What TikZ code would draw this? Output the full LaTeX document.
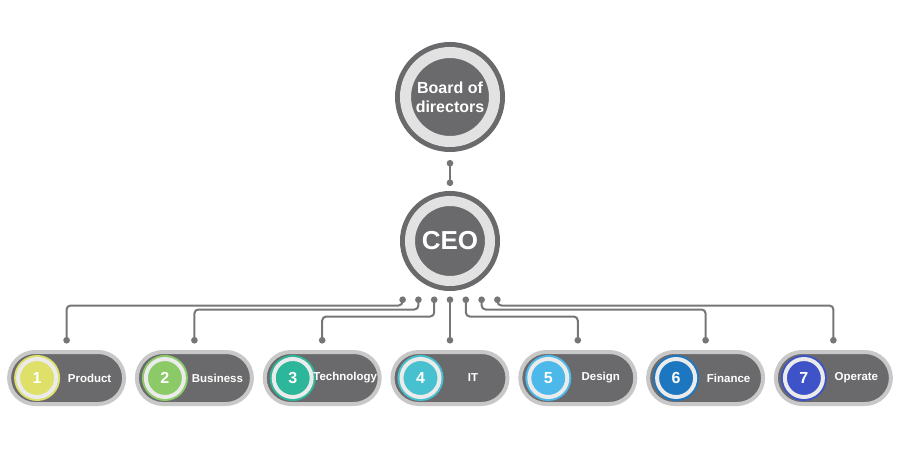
\documentclass[tikz,border=0pt]{standalone}
\usepackage{fontspec}
\setmainfont{Liberation Sans}
\usetikzlibrary{arrows.meta}
\definecolor{boxgrey}{RGB}{106,106,108}
\definecolor{ringgrey}{RGB}{226,226,226}
\definecolor{rimgrey}{RGB}{200,200,200}
\definecolor{linkgrey}{RGB}{118,118,120}
\definecolor{prodc}{RGB}{222,224,106}
\definecolor{busc}{RGB}{140,202,104}
\definecolor{techc}{RGB}{44,182,154}
\definecolor{itc}{RGB}{71,192,207}
\definecolor{desc}{RGB}{76,185,234}
\definecolor{finc}{RGB}{28,118,192}
\definecolor{opc}{RGB}{61,83,199}

\begin{document}
\begin{tikzpicture}[x = 1pt, y = -1pt,
    every node/.style = {text = white, font = \bfseries},
    ring/.style = {shape = circle, inner sep = 0pt, fill = boxgrey, draw = boxgrey, double = ringgrey, line width = 5pt},
    pill/.style = {shape = rectangle, rounded corners = 26pt, minimum width = 115pt, minimum height = 52pt,
        fill = boxgrey, draw = rimgrey, line width = 4pt},
    badge/.style = {shape = circle, minimum size = 38pt, inner sep = 0pt, line width = 2pt,
        double = white!92!black, double distance = 4pt, font = \bfseries\fontsize{16}{16}\selectfont},
    link/.style = {draw = linkgrey, line width = 2pt, {Circle[length = 6.5pt, width = 6.5pt]}-{Circle[length = 6.5pt, width = 6.5pt]}}]
    \useasboundingbox (0,0) rectangle (898,460);
    \node[ring, minimum size = 89pt, double distance = 11pt, outer sep = 10.5pt, align = center,
        font = \bfseries\fontsize{16}{19}\selectfont] (board) at (450,97) {Board of\\directors};
    \node[ring, minimum size = 80pt, double distance = 10pt, outer sep = 10pt,
        font = \bfseries\fontsize{26}{26}\selectfont] (ceo) at (450,241) {CEO};
    \draw[link, shorten <= 8pt, shorten >= 5pt] (board) -- (ceo);
    \foreach \i/\dept/\col in {1/Product/prodc, 2/Business/busc, 3/Technology/techc, 4/IT/itc,
        5/Design/desc, 6/Finance/finc, 7/Operate/opc}{
        \node[pill] (dept\i) at ({450+127.8*(\i-4)},378) {};
        \node[badge, fill = \col, draw = \col] (num\i) at ([xshift = -29.5pt]dept\i.center) {\i};
        \node[font = \bfseries\fontsize{11.5}{13}\selectfont] (lab\i) at ([xshift = 23pt]dept\i.center) {\dept};
    }
    \foreach \i/\drop in {1/9, 2/13, 3/20, 5/20, 6/13, 7/9}{
        \coordinate (tap\i) at ([shift = {({15.8*(\i-4)},5.5)}]ceo.south);
        \draw[link, rounded corners = 4pt, shorten >= 6.5pt] (tap\i) -- ++(0,\drop) -| (dept\i.north);
    }
    \coordinate (tap4) at ([shift = {(0,5.5)}]ceo.south);
    \draw[link, shorten >= 6.5pt] (tap4) -- (dept4.north);
\end{tikzpicture}
\end{document}
